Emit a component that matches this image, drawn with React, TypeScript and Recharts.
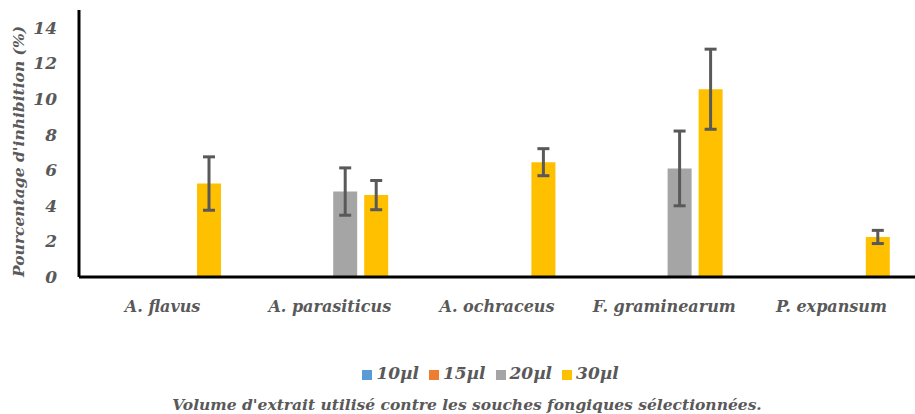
import React from 'react'
import { BarChart, Bar, XAxis, YAxis, Legend, ErrorBar } from 'recharts'

const strains = ['A. flavus', 'A. parasiticus', 'A. ochraceus', 'F. graminearum', 'P. expansum']
const v10 = [0, 0, 0, 0, 0]
const v15 = [0, 0, 0, 0, 0]
const v20 = [0, 4.8, 0, 6.1, 0]
const v30 = [5.25, 4.6, 6.45, 10.55, 2.25]
const e20 = [0, 1.33, 0, 2.1, 0]
const e30 = [1.5, 0.82, 0.76, 2.25, 0.37]
const yTicks = [0, 2, 4, 6, 8, 10, 12, 14]

const data = strains.map((name, i) => ({
  name,
  v10: v10[i],
  v15: v15[i],
  v20: v20[i],
  v30: v30[i],
  e20: e20[i],
  e30: e30[i],
}))

const FONT = 'DejaVu Serif, Liberation Serif, serif'
const TEXT = '#595959'
const tickStyle = { fontFamily: FONT, fontStyle: 'italic', fontWeight: 'bold', fontSize: 16, fill: TEXT }

export default function App() {
  return (
    <div style={{ position: 'absolute', left: 0, top: 0, width: 915, height: 414, background: '#fff' }}>
      <BarChart
        width={915}
        height={414}
        data={data}
        margin={{ top: 10, right: 0, left: 0, bottom: 0 }}
        barSize={24}
        barGap={7}
      >
        <XAxis
          dataKey="name"
          height={137}
          axisLine={{ stroke: '#000', strokeWidth: 3 }}
          tickLine={false}
          tick={tickStyle}
          tickMargin={18}
          label={{
            value: "Volume d'extrait utilisé contre les souches fongiques sélectionnées.",
            position: 'insideBottom',
            offset: 4,
            dx: -30,
            style: { fontFamily: FONT, fontStyle: 'italic', fontWeight: 'bold', fontSize: 15.5, fill: TEXT },
          }}
        />
        <YAxis
          width={79}
          domain={[0, 15]}
          ticks={yTicks}
          allowDataOverflow
          axisLine={{ stroke: '#000', strokeWidth: 3 }}
          tickLine={false}
          tick={{ ...tickStyle, fontSize: 17 }}
          tickMargin={16}
          label={{
            value: "Pourcentage d'inhibition (%)",
            angle: -90,
            position: 'insideLeft',
            offset: 18,
            dy: 8,
            style: { textAnchor: 'middle', fontFamily: FONT, fontStyle: 'italic', fontWeight: 'bold', fontSize: 15.5, fill: TEXT },
          }}
        />
        <Legend
          verticalAlign="middle"
          align="center"
          layout="horizontal"
          iconType="square"
          iconSize={10}
          wrapperStyle={{ top: 363, left: 38, width: 915, fontFamily: FONT, fontStyle: 'italic', fontWeight: 'bold', fontSize: 17 }}
          formatter={(value) => <span style={{ color: TEXT }}>{value}</span>}
        />
        <Bar dataKey="v10" name="10µl" fill="#5B9BD5" isAnimationActive={false} />
        <Bar dataKey="v15" name="15µl" fill="#ED7D31" isAnimationActive={false} />
        <Bar dataKey="v20" name="20µl" fill="#A5A5A5" isAnimationActive={false}>
          <ErrorBar dataKey="e20" width={6} stroke="#595959" strokeWidth={3} />
        </Bar>
        <Bar dataKey="v30" name="30µl" fill="#FFC000" isAnimationActive={false}>
          <ErrorBar dataKey="e30" width={6} stroke="#595959" strokeWidth={3} />
        </Bar>
      </BarChart>
    </div>
  )
}
